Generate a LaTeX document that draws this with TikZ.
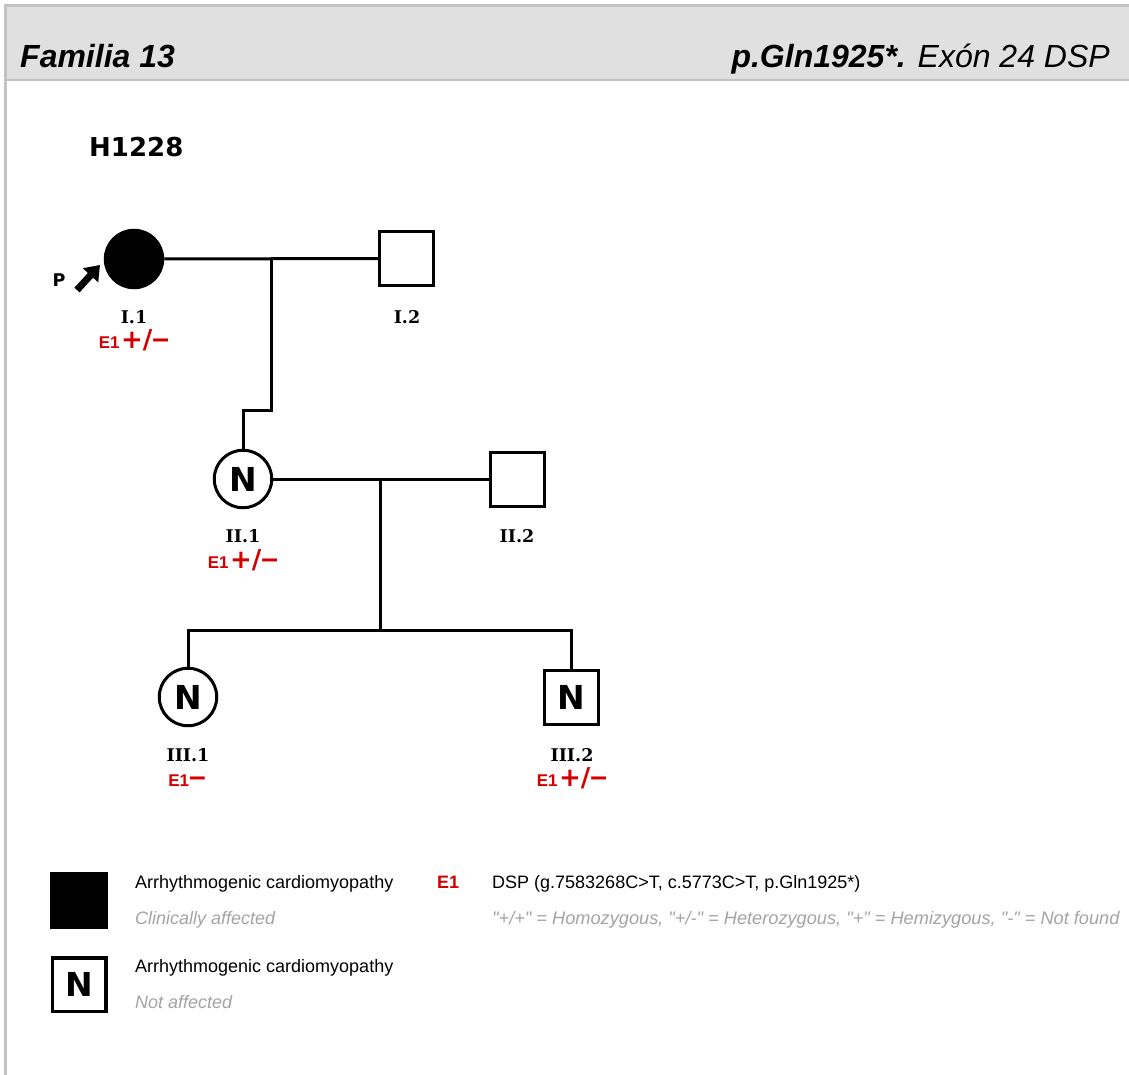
\documentclass[tikz,border=0pt]{standalone}
\usepackage{fontspec}
\setmainfont{Liberation Sans}
\newfontfamily\dvsans{DejaVu Sans}
\newfontfamily\dvserif{DejaVu Serif}
\newfontfamily\nolig{Liberation Sans}[Ligatures=ResetAll]
\usetikzlibrary{arrows.meta}
\definecolor{hdr}{HTML}{E0E0E0}
\definecolor{frm}{HTML}{C2C2C2}
\definecolor{gred}{HTML}{D40000}
\definecolor{lgray}{HTML}{A4A4A4}
\newcommand{\gsmall}[1]{{\fontsize{17}{17}\selectfont #1}}
\newcommand{\gbig}[1]{{\dvsans\bfseries\fontsize{26}{26}\selectfont #1}}
\newcommand{\gdash}{{\fontsize{30}{30}\selectfont –}}
\begin{document}
\begin{tikzpicture}[x=1pt,y=-1pt,
  conn/.style={line width=3pt},
  fem/.style={circle,draw,line width=3pt,minimum size=57.5pt,inner sep=0pt,font=\dvsans\bfseries\fontsize{33}{33}\selectfont},
  mal/.style={rectangle,draw,line width=3pt,minimum size=54pt,inner sep=0pt,font=\dvsans\bfseries\fontsize{33}{33}\selectfont},
  idl/.style={anchor=base,inner sep=0pt,font=\dvserif\bfseries\fontsize{17.5}{17.5}\selectfont},
  gen/.style={anchor=base,inner sep=0pt,text=gred,font=\bfseries},
  legt/.style={anchor=base west,inner sep=0pt,font=\fontsize{18}{18}\selectfont},
  legs/.style={anchor=base west,inner sep=0pt,text=lgray,font=\itshape\fontsize{18}{18}\selectfont}
]
\useasboundingbox (0,0) rectangle (1129,1075);
\fill[white] (0,0) rectangle (1129,1075);
% header
\fill[hdr] (7,7) rectangle (1129,80);
\draw[frm,line width=1.5pt] (7,80) -- (1129,80);
\draw[frm,line width=3pt] (5.5,1075) -- (5.5,5.5) -- (1129,5.5);
\node[anchor=base west,inner sep=0pt,font=\bfseries\itshape\fontsize{32}{32}\selectfont] (title) at (20,68) {Familia 13};
\node[anchor=base east,inner sep=0pt,font=\itshape\fontsize{32}{32}\selectfont] (mut) at (1110,68) {{\bfseries p.Gln1925*.} Exón 24 DSP};
\node[anchor=base west,inner sep=0pt,font=\dvsans\bfseries\fontsize{26}{26}\selectfont] (fam) at (89,157) {H1228};
% persons
\node[fem,fill=black] (I1) at (134,259) {};
\node[mal] (I2) at (406.5,258.5) {};
\node[fem] (II1) at (243,479) {N};
\node[mal] (II2) at (517,479) {};
\node[fem] (III1) at (188,697) {N};
\node[mal] (III2) at (571.5,697.5) {N};
% connectors
\coordinate (m1) at (271,259);
\coordinate (k1) at (271,410);
\coordinate (m2) at (380,479);
\coordinate (sib) at (380,630);
\draw[conn] (I1.east) -- (I2.west);
\draw[conn] (m1) -- (k1) -| (II1.north);
\draw[conn] (II1.east) -- (II2.west);
\draw[conn] (m2) -- (sib);
\draw[conn] (III1.north) |- (sib) -| (III2.north);
% proband arrow
\node[anchor=base,inner sep=0pt,font=\dvsans\bfseries\fontsize{17.5}{17.5}\selectfont] (P) at (59,287) {P};
\coordinate (ptail) at (77,290);
\coordinate (ptip) at (100,265);
\draw[line width=7pt,-{Triangle[length=14pt,width=20pt]}] (ptail) -- (ptip);
% labels
\node[idl] (lI1) at (134,323) {I.1};
\node[idl] (lI2) at (407,323) {I.2};
\node[idl] (lII1) at (243,542) {II.1};
\node[idl] (lII2) at (517,542) {II.2};
\node[idl] (lIII1) at (188,761) {III.1};
\node[idl] (lIII2) at (572,761) {III.2};
\node[gen] (gI1) at (134,348) {\gsmall{E1}\kern1.5pt\gbig{+/}\gdash};
\node[gen] (gII1) at (243,568) {\gsmall{E1}\kern1.5pt\gbig{+/}\gdash};
\node[gen] (gIII1) at (187,786) {\gsmall{E1}\gdash};
\node[gen] (gIII2) at (572,786) {\gsmall{E1}\kern1.5pt\gbig{+/}\gdash};
% legend
\node[rectangle,fill=black,draw,line width=1pt,minimum width=57pt,minimum height=56pt,inner sep=0pt] (leg1) at (79,900.5) {};
\node[mal,line width=3.5pt,minimum size=53.5pt] (leg2) at (79,984.5) {N};
\node[legt] (lt1) at (135,888) {Arrhythmogenic cardiomyopathy};
\node[legs] (ls1) at (135,924) {Clinically affected};
\node[legt] (lt2) at (135,972) {Arrhythmogenic cardiomyopathy};
\node[legs] (ls2) at (135,1008) {Not affected};
\node[legt,text=gred,font=\bfseries\fontsize{18}{18}\selectfont] (le1) at (437,888) {E1};
\node[legt] (ld1) at (492,888) {DSP (g.7583268C>T, c.5773C>T, p.Gln1925*)};
\node[legs,font=\nolig\itshape\fontsize{18.2}{18.2}\selectfont] (ld2) at (492,924) {"+/+" = Homozygous, "+/-" = Heterozygous, "+" = Hemizygous, "-" = Not found};
\end{tikzpicture}
\end{document}
